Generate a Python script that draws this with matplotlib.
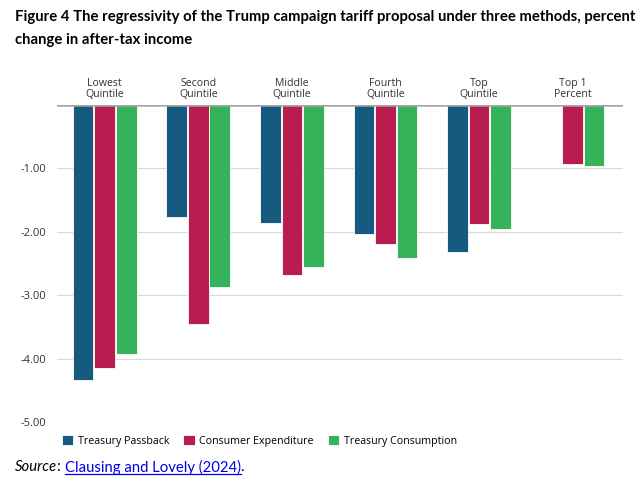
import numpy as np
import matplotlib
matplotlib.use("Agg")
import matplotlib.pyplot as plt
from matplotlib.lines import Line2D

# data (percent change in after-tax income)
groups = ["Lowest\nQuintile", "Second\nQuintile", "Middle\nQuintile",
          "Fourth\nQuintile", "Top\nQuintile", "Top 1\nPercent"]
passback    = [-4.33, -1.77, -1.86, -2.04, -2.32, np.nan]
expenditure = [-4.15, -3.45, -2.68, -2.20, -1.88, -0.93]
consumption = [-3.92, -2.87, -2.56, -2.41, -1.95, -0.97]
series_names = ["Treasury Passback", "Consumer Expenditure", "Treasury Consumption"]
yticks = [-1.0, -2.0, -3.0, -4.0, -5.0]

COLORS = ["#175a7f", "#b91d50", "#34b35a"]
LABEL_FONT = "Open Sans"
TITLE_FONT = "Lato"

fig = plt.figure(figsize=(6.41, 4.91), dpi=100)
ax = fig.add_axes([57 / 641, 1 - 422 / 491, 566 / 641, 317 / 491])

x = np.arange(len(groups))
width, step = 0.22, 0.23
for k, (vals, name, col) in enumerate(zip([passback, expenditure, consumption],
                                           series_names, COLORS)):
    ax.bar(x + (k - 1) * step, vals, width, color=col, edgecolor="white",
           linewidth=0.6, label=name, zorder=3)

ax.set_xlim(-0.51, 5.54)
ax.set_ylim(-5.0, 0)
ax.set_yticks(yticks)
ax.set_yticklabels([f"{v:.2f}" for v in yticks], family=LABEL_FONT,
                   fontsize=8, color="#333333")
ax.tick_params(axis="y", length=0, pad=8)
ax.set_xticks([])
ax.grid(axis="y", color="#d9d9d9", linewidth=0.9, zorder=0)
for s in ax.spines.values():
    s.set_visible(False)
ax.axhline(0, color="#a6a6a6", linewidth=1.8, zorder=4)

for xi, g in zip(x, groups):
    ax.text(xi, 0.08, g, ha="center", va="bottom", family=LABEL_FONT,
            fontsize=7.6, color="#333333", linespacing=1.0)

fig.text(15 / 641, 1 - 17 / 491,
         "Figure 4 The regressivity of the Trump campaign tariff proposal under three methods, percent",
         family=TITLE_FONT, fontweight="bold", fontsize=10.7, va="center", ha="left")
fig.text(15 / 641, 1 - 40 / 491, "change in after-tax income",
         family=TITLE_FONT, fontweight="bold", fontsize=10.7, va="center", ha="left")

handles, labels = ax.get_legend_handles_labels()
fig.legend(handles, labels, loc="center left", bbox_to_anchor=(52 / 641, 1 - 441 / 491),
           ncol=3, frameon=False, handlelength=1.1, handleheight=1.1,
           handletextpad=0.4, columnspacing=1.3,
           prop={"family": LABEL_FONT, "size": 7.7})

# source line: italic "Source", plain ": ", blue underlined link, "."
fig.canvas.draw()
renderer = fig.canvas.get_renderer()
ypos = 1 - 467 / 491
xpos = 15 / 641
parts = [("Source", dict(style="italic", color="black")),
         (": ", dict(color="black")),
         ("Clausing and Lovely (2024)", dict(color="#0000ee")),
         (".", dict(color="black"))]
for txt, kw in parts:
    t = fig.text(xpos, ypos, txt, family=TITLE_FONT, fontsize=10.7,
                 va="center", ha="left", **kw)
    bb = t.get_window_extent(renderer)
    if txt.startswith("Clausing"):
        fig.add_artist(Line2D([bb.x0 / 641, bb.x1 / 641],
                              [(bb.y0 + 0.5) / 491] * 2,
                              color="#0000ee", linewidth=0.9))
    xpos = bb.x1 / 641

fig.savefig("out.png", dpi=100)
